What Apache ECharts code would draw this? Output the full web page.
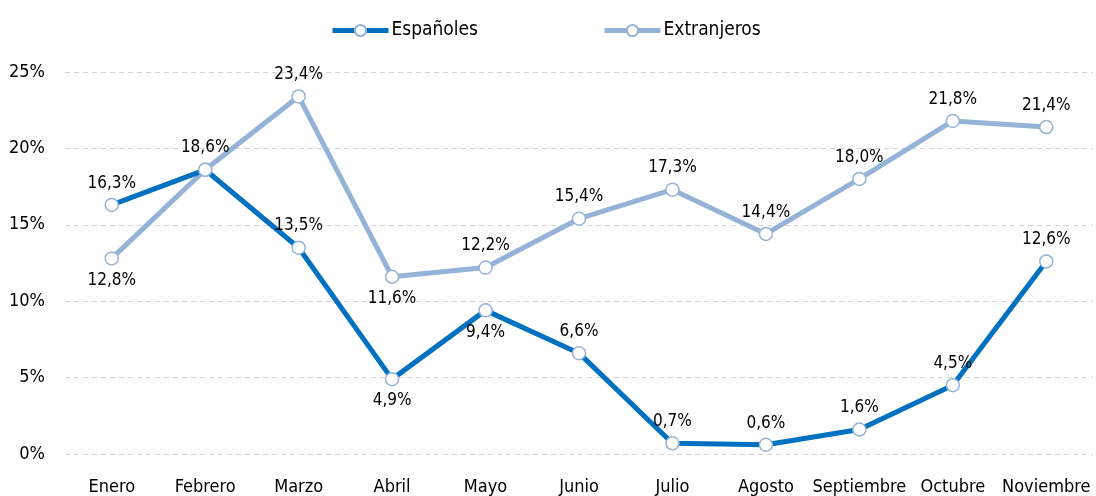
<!DOCTYPE html>
<html>
<head>
<meta charset="utf-8">
<script src="https://cdn.jsdelivr.net/npm/echarts@6/dist/echarts.min.js"></script>
<style>
html,body{margin:0;padding:0;background:#fff;}
#c{width:1096px;height:496px;}
</style>
</head>
<body>
<div id="c"></div>
<script>
const categories = ['Enero','Febrero','Marzo','Abril','Mayo','Junio','Julio','Agosto','Septiembre','Octubre','Noviembre'];
const espanoles = [16.3, 18.6, 13.5, 4.9, 9.4, 6.6, 0.7, 0.6, 1.6, 4.5, 12.6];
const extranjeros = [12.8, 18.6, 23.4, 11.6, 12.2, 15.4, 17.3, 14.4, 18.0, 21.8, 21.4];
const espPos = ['top','top','top','bottom','bottom','top','top','top','top','top','top'];
const extPos = ['bottom','none','top','bottom','top','top','top','top','top','top','top'];

const FONT = '"Liberation Sans Narrow","DejaVu Sans Condensed",sans-serif';
const fmt = v => v.toFixed(1).replace('.', ',') + '%';

function build(vals, pos) {
  return vals.map((v, i) => ({
    value: v,
    label: pos[i] === 'none' ? {show:false} : {show:true, position: pos[i]}
  }));
}

const chart = echarts.init(document.getElementById('c'));
chart.setOption({
  animation: false,
  textStyle: {fontFamily: FONT},
  legend: {
    top: 21,
    left: 330,
    padding: 0,
    itemGap: 124,
    itemWidth: 56,
    itemHeight: 14,
    lineStyle: {width: 5},
    textStyle: {fontFamily: FONT, fontSize: 19, color: '#000', padding: [0,0,0,-2]},
    data: ['Españoles','Extranjeros']
  },
  grid: {left: 65, right: 3, top: 72, bottom: 42},
  xAxis: {
    type: 'category',
    data: categories,
    boundaryGap: true,
    axisLine: {show: false},
    axisTick: {show: false},
    axisLabel: {fontFamily: FONT, fontSize: 18, color: '#000', margin: 24, interval: 0}
  },
  yAxis: {
    type: 'value',
    min: 0, max: 25, interval: 5,
    axisLine: {show: false},
    axisTick: {show: false},
    axisLabel: {fontFamily: FONT, fontSize: 18, color: '#000', margin: 20, formatter: v => v + '%'},
    splitLine: {lineStyle: {color: '#d4d4d4', type: [5,4], width: 1}}
  },
  series: [
    {
      name: 'Españoles', type: 'line', data: build(espanoles, espPos),
      symbol: 'circle', symbolSize: 13,
      lineStyle: {color: '#0070C0', width: 5},
      itemStyle: {color: '#fff', borderColor: '#95B3D7', borderWidth: 1.5},
      label: {fontFamily: FONT, fontSize: 17, color: '#000', distance: 6, formatter: p => fmt(p.value)},
      z: 3
    },
    {
      name: 'Extranjeros', type: 'line', data: build(extranjeros, extPos),
      symbol: 'circle', symbolSize: 13,
      lineStyle: {color: '#95B3D7', width: 5},
      itemStyle: {color: '#fff', borderColor: '#95B3D7', borderWidth: 1.5},
      label: {fontFamily: FONT, fontSize: 17, color: '#000', distance: 6, formatter: p => fmt(p.value)},
      z: 2
    }
  ]
});
</script>
</body>
</html>
